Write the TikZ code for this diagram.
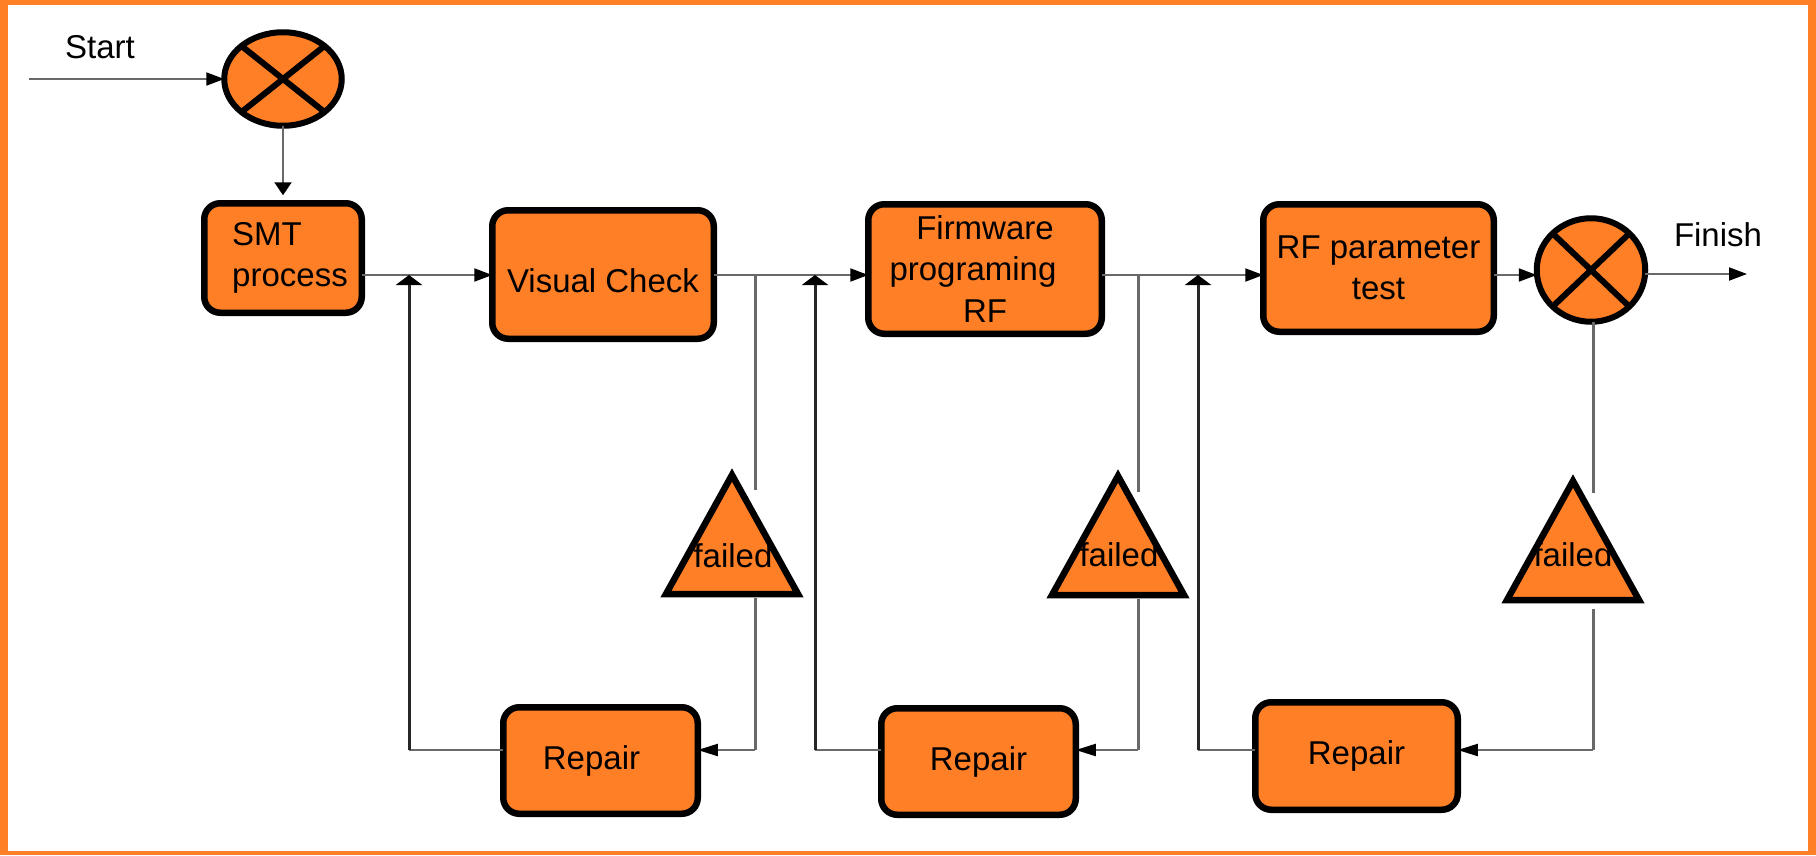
\documentclass[tikz,border=0pt]{standalone}
\usepackage{fontspec}
\setmainfont{Liberation Sans}
\usetikzlibrary{arrows.meta,shapes.geometric,calc}
\definecolor{orF}{RGB}{255,127,39}
\definecolor{lnG}{RGB}{105,105,105}
\newcommand\dgfont{\fontsize{33}{41.5}\selectfont}
\begin{document}
\begin{tikzpicture}[x=1pt,y=-1pt,
  box/.style={draw=black, line width=6.5pt, fill=orF, rounded corners=16pt, inner sep=0pt, outer sep=0pt, align=center, font=\dgfont},
  circ/.style={ellipse, draw=black, line width=6pt, fill=orF, inner sep=0pt, outer sep=0pt},
  xl/.style={line width=6pt},
  tri/.style={isosceles triangle, isosceles triangle stretches, shape border rotate=90, draw=black, line width=6.5pt, fill=orF, inner sep=0pt, outer sep=0pt, minimum width=132pt, minimum height=119pt, anchor=lower side},
  txt/.style={font=\dgfont, inner sep=0pt, align=center},
  conn/.style={draw=lnG, line width=2pt},
  dnl/.style={draw=lnG, line width=3pt},
  upl/.style={draw=black!85, line width=3pt},
  tipR/.style={-{Triangle[length=18pt,width=13pt,color=black]}},
  tipD/.style={-{Triangle[length=13pt,width=17pt,color=black]}},
  tipU/.style={-{Triangle[length=10pt,width=26pt,color=black]}},
  tipL/.style={-{Triangle[length=20pt,width=12pt,color=black]}}
]
\fill[orF] (0,0) rectangle (1816,855);
\fill[white] (8,5) rectangle (1808,851);
\useasboundingbox (0,0) rectangle (1816,855);

\coordinate (ml) at (0,275);

% nodes
\node[txt] (start) at (100,47) {Start};
\node[txt] (finish) at (1718,235) {Finish};
\node[circ, minimum width=117.5pt, minimum height=93.5pt] (c1) at (283,79) {};
\draw[xl] (c1.north east) -- (c1.south west);
\draw[xl] (c1.north west) -- (c1.south east);
\node[circ, minimum width=108.5pt, minimum height=103.5pt] (c2) at (1591,270) {};
\draw[xl] (c2.north east) -- (c2.south west);
\draw[xl] (c2.north west) -- (c2.south east);

\node[box, align=left, minimum width=157.5pt, minimum height=109.5pt] (smt) at (283,258) {\hspace*{14pt}SMT\\\hspace*{14pt}process};
\node[box, minimum width=221.5pt, minimum height=128.5pt] (vis) at (603,274.5) {\raisebox{-6pt}[\height][\depth]{Visual Check}};
\node[box, minimum width=233.5pt, minimum height=129.5pt] (fw) at (985,269) {Firmware\\programing\hbox to 24pt{}\\RF};
\node[box, minimum width=230.5pt, minimum height=127.5pt] (rf) at (1378.5,268) {RF parameter\\test};

\node[box, minimum width=194.5pt, minimum height=106.5pt] (r1) at (600.5,760.5) {Repair\hspace*{18pt}};
\node[box, minimum width=194.5pt, minimum height=106.5pt] (r2) at (978.5,761.5) {Repair};
\node[box, minimum width=202.5pt, minimum height=107.5pt] (r3) at (1356.5,756) {Repair};

\node[tri] (t1) at (732,594) {};
\node[tri] (t2) at (1118,595) {};
\node[tri] (t3) at (1573,600) {};
\node[txt] (f1) at (733,556) {failed};
\node[txt] (f2) at (1119,555) {failed};
\node[txt] (f3) at (1573,555) {failed};

% start / finish
\coordinate (s0) at (29,79);
\draw[conn,tipR] (s0) -- (c1.west);
\draw[conn,tipD,shorten >=8pt] (c1.south) -- (smt.north);
\coordinate (fin) at (1747,274);
\draw[conn,tipR] (c2.east |- fin) -- (fin);

% main line
\draw[conn,tipR] (smt.east |- ml) -- (vis.west |- ml);
\draw[conn,tipR] (vis.east |- ml) -- (fw.west |- ml);
\draw[conn,tipR] (fw.east |- ml) -- (rf.west |- ml);
\draw[conn,tipR] (rf.east |- ml) -- (c2.west |- ml);

% loop 1
\coordinate (d1a) at (755,275); \coordinate (d1b) at (755,490);
\coordinate (d1c) at (755,598); \coordinate (d1d) at (755,750);
\coordinate (u1) at (409,750); \coordinate (u1t) at (409,275);
\draw[dnl] (d1a) -- (d1b);
\draw[dnl] (d1c) -- (d1d);
\draw[conn,tipL] (d1d) -- (r1.east |- d1d);
\draw[conn] (r1.west |- u1) -- (u1);
\draw[upl,tipU] (u1) -- (u1t);

% loop 2
\coordinate (d2a) at (1138,275); \coordinate (d2b) at (1138,492);
\coordinate (d2c) at (1138,599); \coordinate (d2d) at (1138,750);
\coordinate (u2) at (815,750); \coordinate (u2t) at (815,275);
\draw[dnl] (d2a) -- (d2b);
\draw[dnl] (d2c) -- (d2d);
\draw[conn,tipL] (d2d) -- (r2.east |- d2d);
\draw[conn] (r2.west |- u2) -- (u2);
\draw[upl,tipU] (u2) -- (u2t);

% loop 3
\coordinate (d3b) at (1593,493);
\coordinate (d3c) at (1593,609); \coordinate (d3d) at (1593,750);
\coordinate (u3) at (1198,750); \coordinate (u3t) at (1198,275);
\draw[dnl] (c2.south -| d3b) -- (d3b);
\draw[dnl] (d3c) -- (d3d);
\draw[conn,tipL] (d3d) -- (r3.east |- d3d);
\draw[conn] (r3.west |- u3) -- (u3);
\draw[upl,tipU] (u3) -- (u3t);
\end{tikzpicture}
\end{document}
